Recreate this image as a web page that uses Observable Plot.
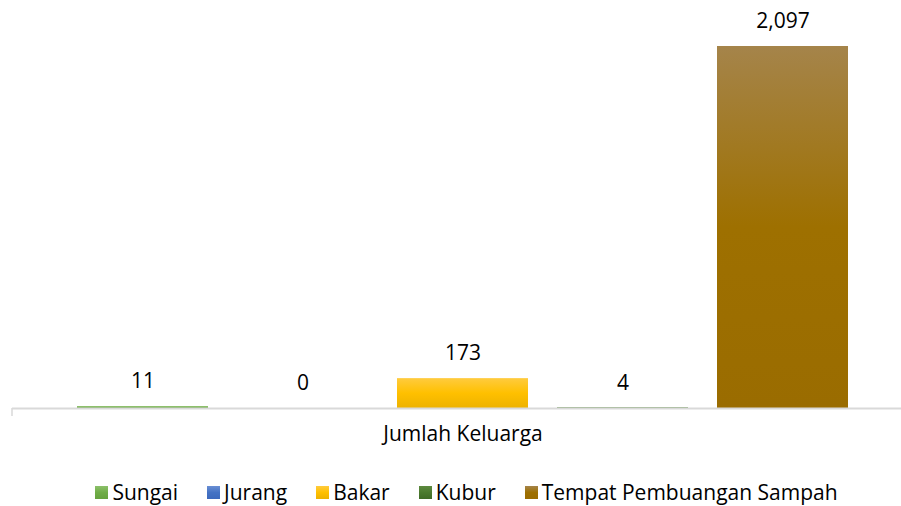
<!DOCTYPE html>
<html>
<head>
<meta charset="utf-8">
<script src="https://cdn.jsdelivr.net/npm/d3@7"></script>
<script src="https://cdn.jsdelivr.net/npm/@observablehq/plot@0.6"></script>
<style>
  html, body { margin: 0; padding: 0; background: #fff; }
  body { width: 901px; height: 506px; overflow: hidden; font-family: "Open Sans", sans-serif; }
  #chart { height: 460px; }
  #legend { display: flex; justify-content: center; align-items: center; gap: 29px; font-size: 21px; color: #000; margin-top: 19px; padding-left: 32px; line-height: 26px; }
  .item { display: flex; align-items: center; gap: 4px; }
  .sw { width: 13px; height: 13px; display: inline-block; }
</style>
</head>
<body>
<div id="chart"></div>
<div id="legend"></div>
<script>
const category = "Jumlah Keluarga";
const series = ["Sungai", "Jurang", "Bakar", "Kubur", "Tempat Pembuangan Sampah"];
const values = [11, 0, 173, 4, 2097];
const colors = ["#70AD47", "#4472C4", "#FFC000", "#4B7A2E", "#9E7000"];
const gradTop = ["#8CC06A", "#6A8FD4", "#FFCB3E", "#5D8A3F", "#A5844A"];
const gradBot = ["#66A23E", "#3C69BD", "#EDB200", "#3F6A26", "#9A6C00"];

const data = series.map((s, i) => ({series: s, value: values[i], idx: i}));

const chart = Plot.plot({
  width: 901,
  height: 460,
  marginLeft: 12,
  marginRight: -12,
  marginTop: 46,
  marginBottom: 52,
  style: {fontFamily: "Open Sans, sans-serif", fontSize: "21px", color: "#000", background: "#fff", overflow: "visible"},
  x: {domain: series, paddingInner: 0.184, paddingOuter: 0.397, axis: null},
  y: {domain: [0, 2097], axis: null},
  marks: [
    Plot.barY(data, {x: "series", y: "value", fill: d => `url(#g${d.idx})`}),
    Plot.ruleY([0], {stroke: "#D9D9D9", strokeWidth: 2}),
    Plot.text(data, {x: "series", y: "value", text: d => d3.format(",")(d.value), dy: -25, fill: "#000", fontSize: 21}),
    Plot.text([category], {frameAnchor: "bottom", dy: 32, text: d => d, fill: "#000", fontSize: 21})
  ]
});

const svg = d3.select(chart);
const defs = svg.insert("defs", ":first-child");
series.forEach((s, i) => {
  const g = defs.append("linearGradient").attr("id", "g" + i).attr("x1", 0).attr("y1", 0).attr("x2", 0).attr("y2", 1);
  g.append("stop").attr("offset", "0%").attr("stop-color", gradTop[i]);
  g.append("stop").attr("offset", "50%").attr("stop-color", colors[i]);
  g.append("stop").attr("offset", "100%").attr("stop-color", gradBot[i]);
});
// left tick at axis start
svg.append("line").attr("x1", 12).attr("x2", 12).attr("y1", 408).attr("y2", 416).attr("stroke", "#D9D9D9").attr("stroke-width", 1.5);

document.getElementById("chart").appendChild(chart);

const legend = d3.select("#legend");
series.forEach((s, i) => {
  const it = legend.append("div").attr("class", "item");
  it.append("span").attr("class", "sw").style("background", `linear-gradient(${gradTop[i]}, ${colors[i]}, ${gradBot[i]})`);
  it.append("span").text(s);
});
</script>
</body>
</html>
